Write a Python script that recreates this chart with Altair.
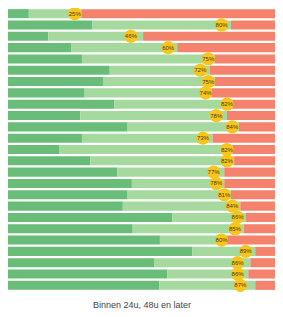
import altair as alt
import pandas as pd

# share answered within 24h (end of dark segment), cumulative within 48h (end of light segment)
within_24 = [7.8, 31.5, 15.1, 23.8, 27.7, 38.1, 35.8, 28.7, 39.9, 27.1, 44.8, 27.7, 19.3,
             30.8, 40.9, 46.4, 44.8, 43.0, 61.6, 46.7, 56.9, 69.1, 54.9, 59.7, 56.7]
within_48 = [27.5, 83.5, 50.6, 63.4, 77.4, 75.5, 77.4, 76.2, 84.0, 82.0, 86.5, 76.6, 84.0,
             84.7, 81.0, 81.0, 83.5, 87.0, 89.0, 88.3, 81.6, 92.6, 90.8, 90.0, 92.6]
label_pct = [25, 80, 46, 60, 75, 72, 75, 74, 82, 78, 84, 73, 82,
             82, 77, 78, 81, 84, 86, 85, 80, 89, 86, 86, 87]
segments = ["Binnen 24u", "Binnen 48u", "Later"]
seg_colors = ["#69bd78", "#a5d99d", "#f4826c"]
title_text = "Binnen 24u, 48u en later"

rows = [f"r{i:02d}" for i in range(len(within_24))]

seg_records = []
for r, a, b in zip(rows, within_24, within_48):
    seg_records.append({"row": r, "seg": segments[0], "start": 0, "end": a})
    seg_records.append({"row": r, "seg": segments[1], "start": a, "end": b})
    seg_records.append({"row": r, "seg": segments[2], "start": b, "end": 100})
seg_df = pd.DataFrame(seg_records)

lab_df = pd.DataFrame({"row": rows, "pct": label_pct,
                       "txt": [f"{v}%" for v in label_pct]})

xscale = alt.Scale(domain=[0, 100], nice=False, zero=False)
yscale = alt.Scale(domain=rows, paddingInner=0.2, paddingOuter=0.1)
xaxis = alt.Axis(labels=False, ticks=False, domain=False, grid=False,
                 title=title_text, titleFont="Liberation Sans", titleFontSize=9,
                 titleFontWeight="normal", titleColor="#444444", titlePadding=9)

bars = alt.Chart(seg_df).mark_bar().encode(
    x=alt.X("start:Q", scale=xscale, axis=xaxis),
    x2="end:Q",
    y=alt.Y("row:N", scale=yscale, axis=None, sort=rows),
    color=alt.Color("seg:N", scale=alt.Scale(domain=segments, range=seg_colors), legend=None),
)

dots = alt.Chart(lab_df).mark_circle(size=175, color="#f7c51e", opacity=1).encode(
    x=alt.X("pct:Q", scale=xscale),
    y=alt.Y("row:N", scale=yscale, sort=rows),
)

texts = alt.Chart(lab_df).mark_text(fontSize=6, font="Liberation Sans", color="#4a3b10").encode(
    x=alt.X("pct:Q", scale=xscale),
    y=alt.Y("row:N", scale=yscale, sort=rows),
    text="txt:N",
)

chart = alt.layer(bars, dots, texts).properties(
    width=267, height=283,
    autosize=alt.AutoSizeParams(type="none"),
    padding={"left": 0, "top": 0, "right": 0, "bottom": 18},
).configure_view(stroke=None)

chart.save("out.html", embed_options={"renderer": "svg", "actions": False})
